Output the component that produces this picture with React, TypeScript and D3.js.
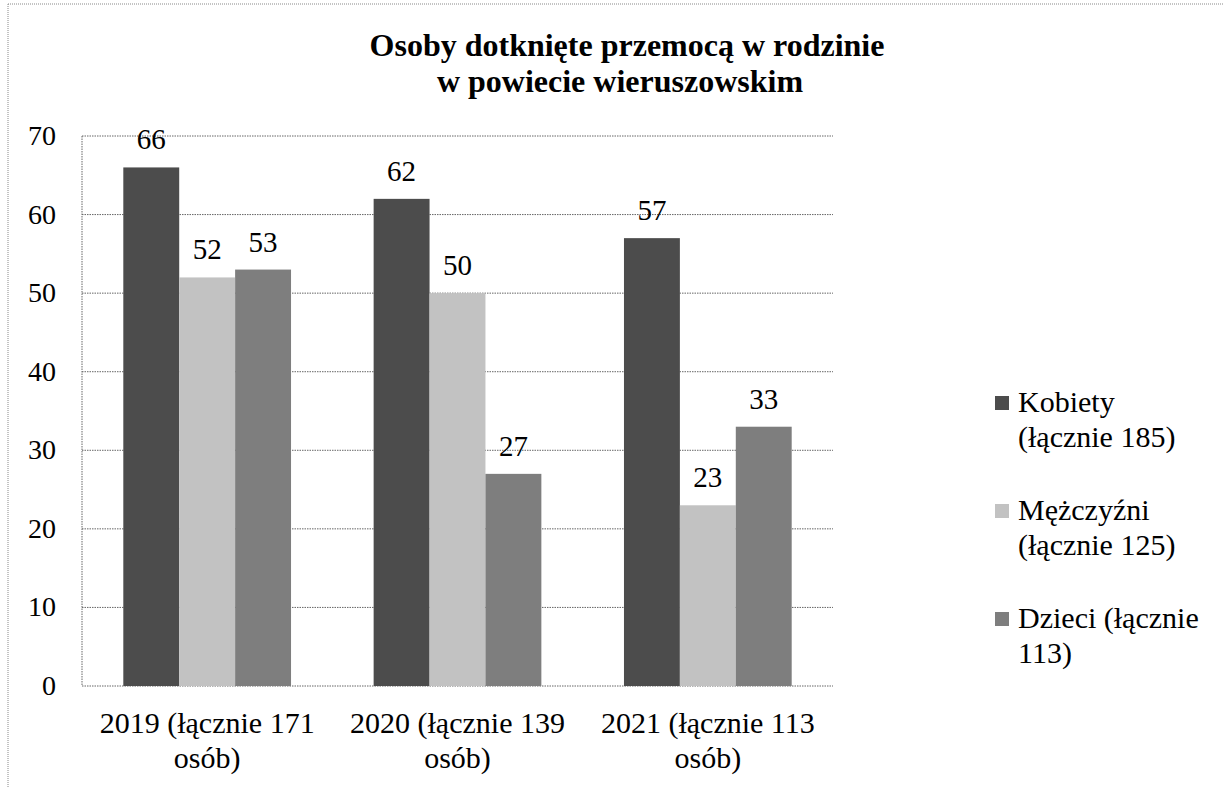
import React from 'react';
import * as d3 from 'd3';

const years = ['2019', '2020', '2021'];
const yearLabels = [
  ['2019 (łącznie 171', 'osób)'],
  ['2020 (łącznie 139', 'osób)'],
  ['2021 (łącznie 113', 'osób)'],
];
const seriesNames = ['Kobiety', 'Mężczyźni', 'Dzieci'];
const legendLabels = [
  ['Kobiety', '(łącznie 185)'],
  ['Mężczyźni', '(łącznie 125)'],
  ['Dzieci (łącznie', '113)'],
];
const kobiety = [66, 62, 57];
const mezczyzni = [52, 50, 23];
const dzieci = [53, 27, 33];
const yTicks = [0, 10, 20, 30, 40, 50, 60, 70];
const colors = ['#4c4c4c', '#c2c2c2', '#7e7e7e'];

const W = 1224;
const H = 787;
const ts = { fontFamily: 'Liberation Serif' };

const App = () => {
  const values = [kobiety, mezczyzni, dzieci];
  const left = 82, right = 833, top = 136, bottom = 686;

  const x = d3.scaleBand().domain(years).range([left, right]).paddingInner(0.33).paddingOuter(0.165);
  const xs = d3.scaleBand().domain(seriesNames).range([0, x.bandwidth()]);
  const y = d3.scaleLinear().domain([0, 70]).range([bottom, top]);

  return (
    <svg width={W} height={H} style={{ position: 'absolute', left: 0, top: 0, background: '#fff' }}>
      <line x1={8} x2={8} y1={4} y2={H} stroke="#888" strokeDasharray="1 1" />
      <line x1={8} x2={W} y1={4} y2={4} stroke="#888" strokeDasharray="1 1" />
      <text style={ts} x={627} y={56} textAnchor="middle" fontSize={32} fontWeight="bold">Osoby dotknięte przemocą w rodzinie</text>
      <text style={ts} x={620} y={92} textAnchor="middle" fontSize={32} fontWeight="bold">w powiecie wieruszowskim</text>

      {yTicks.map(t => (
        <g key={t}>
          <line x1={left} x2={right} y1={y(t)} y2={y(t)} stroke="#666" strokeDasharray="1.5 1" />
          <text style={ts} x={56} y={y(t) + 9} textAnchor="end" fontSize={28}>{t}</text>
        </g>
      ))}
      <line x1={left} x2={left} y1={top} y2={bottom} stroke="#666" strokeDasharray="1.5 1" />

      {years.map((yr, i) => (
        <g key={yr}>
          {seriesNames.map((s, j) => {
            const v = values[j][i];
            const bx = (x(yr) as number) + (xs(s) as number);
            return (
              <g key={s}>
                <rect x={bx} y={y(v)} width={xs.bandwidth()} height={y(0) - y(v)} fill={colors[j]} />
                <text style={ts} x={bx + xs.bandwidth() / 2} y={y(v) - 18} textAnchor="middle" fontSize={29}>{v}</text>
              </g>
            );
          })}
          {yearLabels[i].map((l, k) => (
            <text style={ts} key={k} x={(x(yr) as number) + x.bandwidth() / 2} y={733 + k * 35} textAnchor="middle" fontSize={30}>{l}</text>
          ))}
        </g>
      ))}

      {legendLabels.map((ls, j) => (
        <g key={j}>
          <rect x={995} y={396 + j * 108} width={14} height={14} fill={colors[j]} />
          {ls.map((l, k) => (
            <text style={ts} key={k} x={1018} y={412 + j * 108 + k * 35} fontSize={30}>{l}</text>
          ))}
        </g>
      ))}
    </svg>
  );
};

export default App;
